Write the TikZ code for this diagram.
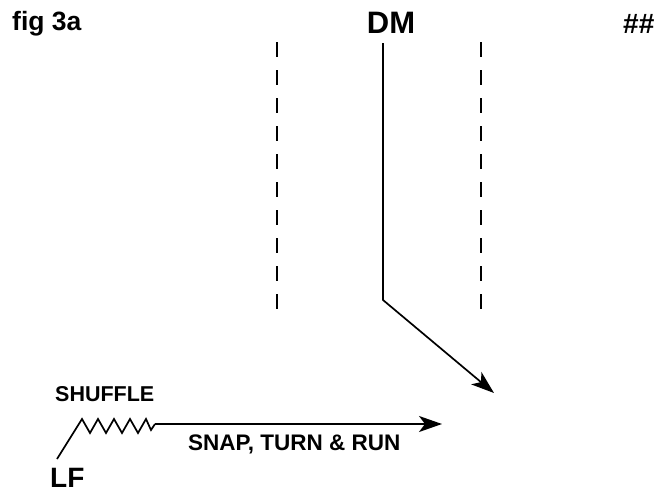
\documentclass[tikz,border=0pt]{standalone}
\usepackage{fontspec}
\setmainfont{Liberation Sans}
\usetikzlibrary{arrows.meta}
\begin{document}
\begin{tikzpicture}[x=1pt,y=-1pt,
  lbl/.style={font=\bfseries, inner sep=0pt},
  route/.style={line width=1.7pt, line join=miter},
  lane/.style={line width=1.8pt, dash pattern=on 15pt off 13pt},
  tip/.style={-{Stealth[length=23pt,width=16pt,inset=6pt]}}]
\useasboundingbox (0,0) rectangle (670,493);

% labels
\node[lbl, anchor=base west, font=\bfseries\fontsize{26.5}{31}\selectfont] (fig) at (12,30) {fig 3a};
\node[lbl, anchor=base, font=\bfseries\fontsize{31}{36}\selectfont] (dm) at (391,33) {DM};
\node[lbl, anchor=base west, font=\bfseries\fontsize{28}{34}\selectfont] (hash) at (623,33) {\#\#};
\node[lbl, anchor=base west, font=\bfseries\fontsize{21.5}{26}\selectfont] (shuffle) at (55,401) {SHUFFLE};
\node[lbl, anchor=base west, font=\bfseries\fontsize{22.5}{27}\selectfont] (snap) at (188,450) {SNAP, TURN \& RUN};
\node[lbl, anchor=base west, font=\bfseries\fontsize{28}{33}\selectfont] (lf) at (50,487) {LF};

% lane markers
\coordinate (laneLtop) at (277,42);
\coordinate (laneLbot) at (277,312);
\coordinate (laneRtop) at (481,42);
\coordinate (laneRbot) at (481,312);
\draw[lane] (laneLtop) -- (laneLbot);
\draw[lane] (laneRtop) -- (laneRbot);

% DM route: straight down, then break to the outside
\coordinate (dmStart) at (383,43);
\coordinate (dmBreak) at (383,300);
\coordinate (dmEnd) at (494,393);
\draw[route, tip] (dmStart) -- (dmBreak) -- (dmEnd);

% LF route: release, shuffle, then snap, turn and run
\coordinate (lfStart) at (57,459);
\coordinate (shufEnd) at (155,424);
\coordinate (lfEnd) at (442,424);
\draw[route] (lfStart) -- (82,419) -- (90,433) -- (98,419) -- (106,433)
  -- (114,419) -- (122,433) -- (130,419) -- (138,433) -- (146,419)
  -- (151,430) -- (shufEnd);
\draw[route, tip] (shufEnd) -- (lfEnd);
\end{tikzpicture}
\end{document}
